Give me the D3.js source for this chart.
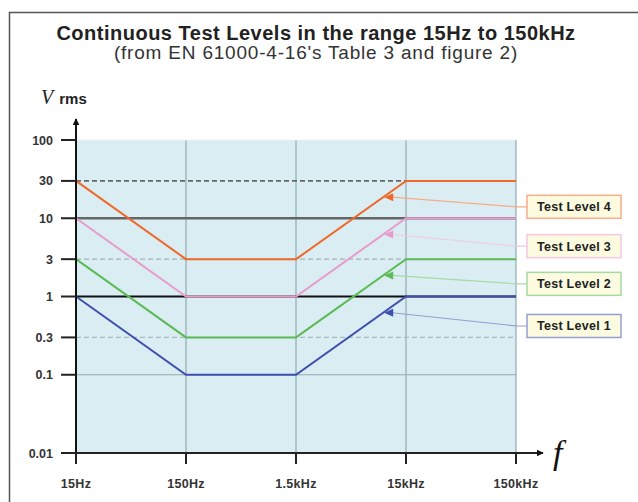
<!DOCTYPE html>
<html lang="en">
<head>
    <meta charset="UTF-8">
    <title>Continuous Test Levels</title>
    <script src="https://d3js.org/d3.v7.min.js"></script>
    <style>
        body { margin: 0; background: #fff; }
        text { font-family: Arial, "Liberation Sans", sans-serif; }
    </style>
</head>
<body>
<div id="chart"></div>
<script>

const width = 638;
const height = 502;

// frequency axis (Hz) and its labels
const freqTicks = [15, 150, 1500, 15000, 150000];
const freqLabels = ["15Hz", "150Hz", "1.5kHz", "15kHz", "150kHz"];

// voltage axis (V rms)
const voltTicks = [0.01, 0.1, 0.3, 1, 3, 10, 30, 100];
const voltLabels = ["0.01", "0.1", "0.3", "1", "3", "10", "30", "100"];

// each test level: voltage at every frequency tick
const levelNames = ["Test Level 1", "Test Level 2", "Test Level 3", "Test Level 4"];
const level1 = [1, 0.1, 0.1, 1, 1];
const level2 = [3, 0.3, 0.3, 3, 3];
const level3 = [10, 1, 1, 10, 10];
const level4 = [30, 3, 3, 30, 30];
const levelColors = ["#3f4fae", "#5dbb57", "#e79ccb", "#f0682a"];
const labelY = [0.42, 1.45, 4.4, 14];   // where each callout box sits (V)
const arrowFreq = 9300;                 // callouts point at the rising edge here

const svg = d3.select("#chart").append("svg")
    .attr("width", width)
    .attr("height", height);

// frame
svg.append("path")
    .attr("d", `M9.5,${height} V12.5 H${width}`)
    .attr("fill", "none")
    .attr("stroke", "#555")
    .attr("stroke-width", 1.5);

// titles
svg.append("text")
    .attr("x", 316).attr("y", 40)
    .attr("text-anchor", "middle")
    .style("font-size", "20px").style("font-weight", "bold").style("fill", "#222")
    .style("letter-spacing", "0.5px")
    .text("Continuous Test Levels in the range 15Hz to 150kHz");
svg.append("text")
    .attr("x", 316).attr("y", 59)
    .attr("text-anchor", "middle")
    .style("font-size", "19px").style("fill", "#333")
    .style("letter-spacing", "0.8px")
    .text("(from EN 61000-4-16's Table 3 and figure 2)");

const x = d3.scaleLog().domain([15, 150000]).range([76, 516]);
const y = d3.scaleLog().domain([0.01, 100]).range([453, 140]);

// plot background
svg.append("rect")
    .attr("x", x(15)).attr("y", y(100))
    .attr("width", x(150000) - x(15))
    .attr("height", y(0.01) - y(100))
    .attr("fill", "#d9edf3");

// vertical grid
svg.selectAll(".vgrid")
    .data(freqTicks.slice(1))
    .enter().append("line")
    .attr("x1", d => x(d)).attr("x2", d => x(d))
    .attr("y1", y(100)).attr("y2", y(0.01))
    .attr("stroke", "#8fabaf")
    .attr("stroke-width", 1.2);

// horizontal grid, styled per level
const gridStyle = {
    0.1: { c: "#8fabaf", w: 1.2, dash: null },
    0.3: { c: "#a9bcc0", w: 1.2, dash: "5,3" },
    1:   { c: "#111", w: 2.2, dash: null },
    3:   { c: "#a9b4b6", w: 1.2, dash: "5,3" },
    10:  { c: "#666", w: 2.4, dash: null },
    30:  { c: "#666", w: 1.6, dash: "5,3" },
    100: { c: "#e8f2f5", w: 1, dash: null }
};
svg.selectAll(".hgrid")
    .data(voltTicks.slice(1))
    .enter().append("line")
    .attr("x1", x(15)).attr("x2", x(150000))
    .attr("y1", d => y(d)).attr("y2", d => y(d))
    .attr("stroke", d => gridStyle[d].c)
    .attr("stroke-width", d => gridStyle[d].w)
    .attr("stroke-dasharray", d => gridStyle[d].dash);

// test level lines
const levels = [level1, level2, level3, level4];
const line = d3.line()
    .x((d, i) => x(freqTicks[i]))
    .y(d => y(d));

svg.selectAll(".level")
    .data(levels)
    .enter().append("path")
    .attr("d", line)
    .attr("fill", "none")
    .attr("stroke", (d, i) => levelColors[i])
    .attr("stroke-width", 2);

// axes
svg.append("defs").append("marker")
    .attr("id", "arr")
    .attr("viewBox", "0 0 10 10")
    .attr("refX", 9).attr("refY", 5)
    .attr("markerWidth", 7).attr("markerHeight", 7)
    .attr("markerUnits", "userSpaceOnUse")
    .attr("orient", "auto")
    .append("path").attr("d", "M0,0 L10,5 L0,10 z").attr("fill", "#111");

svg.append("line")
    .attr("x1", x(15)).attr("x2", x(15))
    .attr("y1", y(0.01) + 10).attr("y2", 119)
    .attr("stroke", "#111").attr("stroke-width", 2)
    .attr("marker-end", "url(#arr)");
svg.append("line")
    .attr("x1", x(15) - 15).attr("x2", 543)
    .attr("y1", y(0.01)).attr("y2", y(0.01))
    .attr("stroke", "#222").attr("stroke-width", 2.2)
    .attr("marker-end", "url(#arr)");

// y ticks
svg.selectAll(".ytick")
    .data(voltTicks)
    .enter().append("line")
    .attr("x1", x(15) - 15).attr("x2", x(15))
    .attr("y1", d => y(d)).attr("y2", d => y(d))
    .attr("stroke", "#222").attr("stroke-width", 2);
svg.selectAll(".ylab")
    .data(voltTicks)
    .enter().append("text")
    .attr("x", 53).attr("y", d => y(d) + 4.5)
    .attr("text-anchor", "end")
    .style("font-size", "12.5px").style("font-weight", "bold").style("fill", "#333")
    .text((d, i) => voltLabels[i]);

// x ticks
svg.selectAll(".xtick")
    .data(freqTicks)
    .enter().append("line")
    .attr("x1", d => x(d)).attr("x2", d => x(d))
    .attr("y1", y(0.01)).attr("y2", y(0.01) + 11)
    .attr("stroke", "#222").attr("stroke-width", 2);
svg.selectAll(".xlab")
    .data(freqTicks)
    .enter().append("text")
    .attr("x", d => x(d)).attr("y", 488)
    .attr("text-anchor", "middle")
    .style("font-size", "12.5px").style("font-weight", "bold").style("fill", "#333")
    .style("letter-spacing", "0.3px")
    .text((d, i) => freqLabels[i]);

// axis titles
const vt = svg.append("text").attr("x", 41).attr("y", 104);
vt.append("tspan")
    .style("font-family", "'Liberation Serif', 'DejaVu Serif', serif")
    .style("font-style", "italic").style("font-size", "20px").style("fill", "#222")
    .text("V");
vt.append("tspan").attr("dx", 6)
    .style("font-size", "15px").style("font-weight", "bold").style("fill", "#222")
    .text("rms");

svg.append("text")
    .attr("x", 553).attr("y", 464)
    .style("font-family", "'Liberation Serif', 'DejaVu Serif', serif")
    .style("font-style", "italic").style("font-size", "34px").style("fill", "#111")
    .text("f");

// callouts
function levelAt(values, f) {
    // log-log interpolation along the level line
    const lf = Math.log10(f);
    for (let i = 0; i < freqTicks.length - 1; i++) {
        const a = Math.log10(freqTicks[i]), b = Math.log10(freqTicks[i + 1]);
        if (lf >= a && lf <= b) {
            const t = (lf - a) / (b - a);
            return Math.pow(10, Math.log10(values[i]) * (1 - t) + Math.log10(values[i + 1]) * t);
        }
    }
    return values[values.length - 1];
}

const boxX = 527, boxW = 94, boxH = 23;

levels.forEach((vals, i) => {
    const col = levelColors[i];
    const ax = x(arrowFreq) + 1;
    const ay = y(levelAt(vals, arrowFreq));
    const by = y(labelY[i]);
    const ex = x(150000) + 1;

    const pale = d3.interpolateRgb(col, "#ffffff")(0.45);
    svg.append("path")
        .attr("d", `M${ax + 8},${ay} L${ex},${by} L${boxX},${by}`)
        .attr("fill", "none")
        .attr("stroke", pale)
        .attr("stroke-width", 1.2);
    svg.append("path")
        .attr("d", `M${ax},${ay} l9,-4 l0,8 z`)
        .attr("fill", col);

    svg.append("rect")
        .attr("x", boxX).attr("y", by - boxH / 2)
        .attr("width", boxW).attr("height", boxH)
        .attr("fill", "#fcfbe0")
        .attr("stroke", pale)
        .attr("stroke-width", 1.5);
    svg.append("text")
        .attr("x", boxX + boxW / 2).attr("y", by + 4.5)
        .attr("text-anchor", "middle")
        .style("font-size", "12.5px").style("font-weight", "bold").style("fill", "#222")
        .style("letter-spacing", "0.3px")
        .text(levelNames[i]);
});
</script>
</body>
</html>
